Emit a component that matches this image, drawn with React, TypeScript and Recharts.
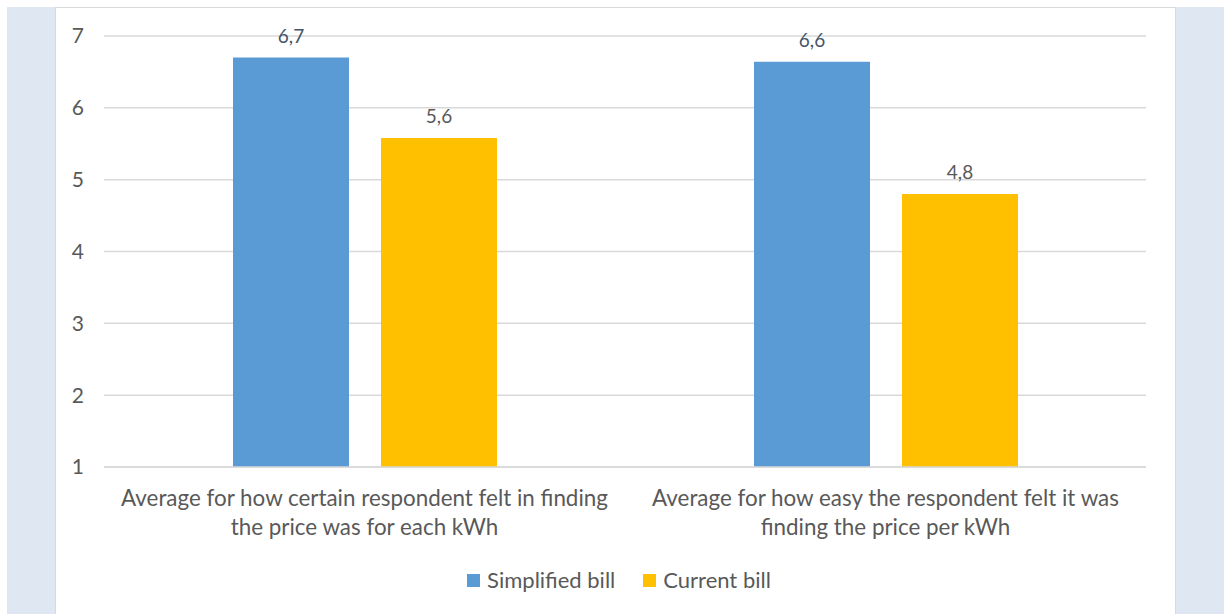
import React from "react";
import { BarChart, Bar, XAxis, YAxis, CartesianGrid, Legend, LabelList } from "recharts";

const categories = [
  ["Average for how certain respondent felt in finding", "the price was for each kWh"],
  ["Average for how easy the respondent felt it was", "finding the price per kWh"],
];
const simplifiedBill = [6.7, 6.64];
const currentBill = [5.58, 4.8];
const simplifiedLabels = ["6,7", "6,6"];
const currentLabels = ["5,6", "4,8"];
const yTicks = [1, 2, 3, 4, 5, 6, 7];
const seriesNames = ["Simplified bill", "Current bill"];
const seriesColors = ["#5b9bd5", "#ffc000"];

const data = categories.map((c, i) => ({
  name: c.join(" "),
  lines: c,
  simplified: simplifiedBill[i],
  current: currentBill[i],
  sLabel: simplifiedLabels[i],
  cLabel: currentLabels[i],
}));

const FONT = "Lato, 'Noto Sans', sans-serif";
const GRAY = "#595959";

const CatTick = (props: any) => {
  const { x, y, payload } = props;
  const d = data[payload.index] || data.find((r) => r.name === payload.value);
  return (
    <text x={x} y={y} textAnchor="middle" fill={GRAY} fontFamily={FONT} fontSize={22.4}>
      {d.lines.map((l: string, i: number) => (
        <tspan key={i} x={x} dy={i === 0 ? 31 : 29}>
          {l}
        </tspan>
      ))}
    </text>
  );
};

const LegendContent = () => (
  <div
    style={{
      display: "flex",
      justifyContent: "center",
      alignItems: "center",
      paddingLeft: 8,
      fontFamily: FONT,
      fontSize: 22,
      color: GRAY,
      lineHeight: "24px",
    }}
  >
    {seriesNames.map((n, i) => (
      <div key={n} style={{ display: "flex", alignItems: "center", marginLeft: i === 0 ? 0 : 28 }}>
        <span style={{ width: 13, height: 13, background: seriesColors[i], marginRight: 7, display: "inline-block" }} />
        <span>{n}</span>
      </div>
    ))}
  </div>
);

export default function App() {
  return (
    <div
      style={{
        position: "absolute",
        left: 7,
        top: 7,
        width: 1217,
        height: 607,
        background: "#dfe8f2",
        overflow: "hidden",
      }}
    >
      <div
        style={{
          position: "absolute",
          left: 48,
          top: 0,
          width: 1121,
          height: 620,
          background: "#ffffff",
          border: "1.5px solid #d9d9d9",
          boxSizing: "border-box",
        }}
      >
        <div style={{ position: "absolute", left: 0, top: 0 }}>
          <BarChart
            width={1118}
            height={606}
            data={data}
            margin={{ top: 28, right: 28, left: 0, bottom: 22 }}
            barGap={32}
            barSize={116}
          >
            <CartesianGrid vertical={false} stroke="#d9d9d9" strokeWidth={1.5} />
            <XAxis
              dataKey="name"
              axisLine={{ stroke: "#d9d9d9", strokeWidth: 1.5 }}
              tickLine={false}
              tick={<CatTick />}
              height={101}
              interval={0}
            />
            <YAxis
              domain={[1, 7]}
              ticks={yTicks}
              axisLine={false}
              tickLine={false}
              tickSize={0}
              tickMargin={20}
              width={48}
              tick={{ fill: GRAY, fontFamily: FONT, fontSize: 21 }}
              allowDataOverflow
            />
            <Legend
              verticalAlign="bottom"
              content={<LegendContent />}
              wrapperStyle={{ width: 1118, left: 0, height: 24 }}
            />
            <Bar dataKey="simplified" name="Simplified bill" fill={seriesColors[0]} isAnimationActive={false}>
              <LabelList
                dataKey="sLabel"
                position="top"
                offset={15}
                fill="#44546a"
                fontFamily={FONT}
                fontSize={19}
              />
            </Bar>
            <Bar dataKey="current" name="Current bill" fill={seriesColors[1]} isAnimationActive={false}>
              <LabelList
                dataKey="cLabel"
                position="top"
                offset={15}
                fill={GRAY}
                fontFamily={FONT}
                fontSize={19}
              />
            </Bar>
          </BarChart>
        </div>
      </div>
    </div>
  );
}
